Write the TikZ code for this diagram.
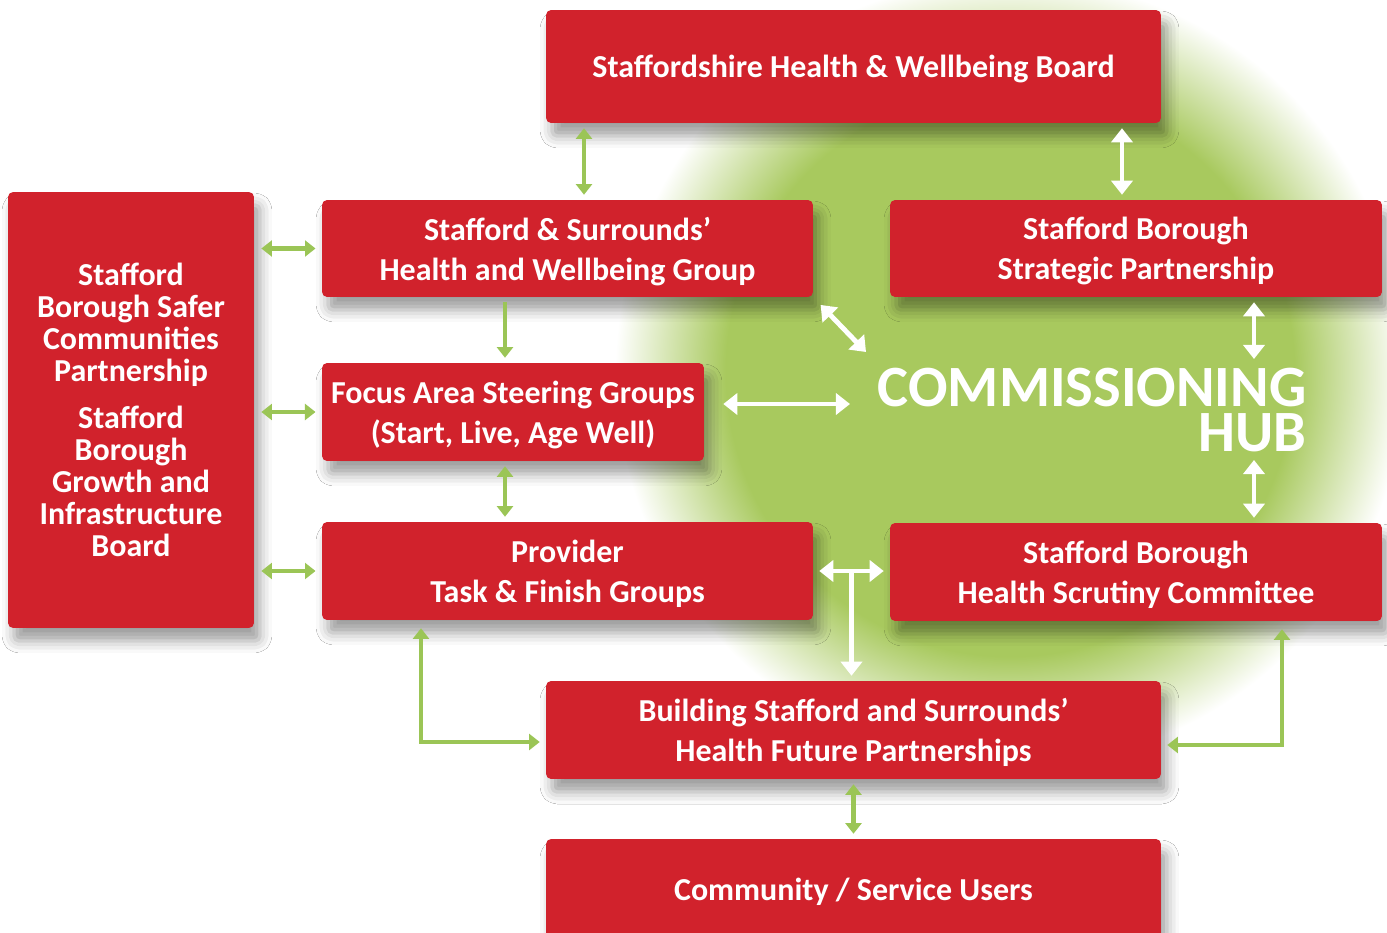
\documentclass[tikz,border=0pt]{standalone}
\usepackage{fontspec}
\setmainfont{Carlito}
\usepackage{tikz}
\usetikzlibrary{arrows.meta}
\usetikzlibrary{shadows.blur}

\definecolor{boxred}{RGB}{209,34,44}
\definecolor{linkgreen}{RGB}{155,197,86}
\definecolor{hubgreen}{RGB}{168,201,94}

% soft green disc behind the hub
\pgfdeclareradialshading{hubglow}{\pgfpointorigin}{color(0bp)=(hubgreen); color(18bp)=(hubgreen); color(25bp)=(white); color(50bp)=(white)}

\tikzset{
  box/.style={fill=boxred, rounded corners=0.1cm, text=white, align=center,
    inner sep=0pt, font=\bfseries\fontsize{18.2}{22.7}\selectfont,
    text depth=-0.8pt,
    blur shadow={shadow xshift=0.12cm, shadow yshift=-0.26cm, shadow blur radius=0.24cm, shadow opacity=38}},
  garrow/.style={draw=linkgreen, line width=2.5pt,
    {Triangle[length=6pt,width=9pt]}-{Triangle[length=6pt,width=9pt]},
    shorten <=2.8pt, shorten >=2.8pt},
  warrow/.style={draw=white, line width=2.8pt,
    {Triangle[length=8pt,width=12pt]}-{Triangle[length=8pt,width=12pt]},
    shorten <=2.8pt, shorten >=2.8pt},
}

\begin{document}
\begin{tikzpicture}[x=0.02cm, y=-0.02cm]
  \useasboundingbox (0,0) rectangle (1387,933);
  \fill[white] (0,0) rectangle (1387,933);
  \shade[shading=hubglow] (1010,372) circle[radius=7.9cm];

  % boards and groups
  \node[box, minimum width=12.3cm, minimum height=2.26cm] (hwb) at (853.5,66.5)
    {Staffordshire Health \& Wellbeing Board};
  \node[box, minimum width=9.82cm, minimum height=1.94cm] (ssh) at (567.5,248.5)
    {Stafford \& Surrounds’\\Health and Wellbeing Group};
  \node[box, minimum width=9.84cm, minimum height=1.94cm] (sbsp) at (1136,248.5)
    {Stafford Borough\\Strategic Partnership};
  \node[box, minimum width=4.92cm, minimum height=8.72cm,
    font=\bfseries\fontsize{18.2}{18.2}\selectfont, text depth={}] (safer) at (131,410)
    {Stafford\\Borough Safer\\Communities\\Partnership\\[8.5pt]Stafford\\Borough\\Growth and\\Infrastructure\\Board};
  \node[box, minimum width=7.64cm, minimum height=1.96cm] (focus) at (513,412)
    {Focus Area Steering Groups\\(Start, Live, Age Well)};
  \node[box, minimum width=9.82cm, minimum height=1.96cm] (provider) at (567.5,571)
    {Provider\\Task \& Finish Groups};
  \node[box, minimum width=9.84cm, minimum height=1.96cm] (scrutiny) at (1136,572)
    {Stafford Borough\\Health Scrutiny Committee};
  \node[box, minimum width=12.3cm, minimum height=1.96cm] (building) at (853.5,730)
    {Building Stafford and Surrounds’\\Health Future Partnerships};
  \node[box, minimum width=12.3cm, minimum height=2cm] (community) at (853.5,889)
    {Community / Service Users};

  % hub title
  \node[text=white, align=right, inner sep=0pt,
    font=\bfseries\fontsize{33.3}{25.5}\selectfont] (hub) at (1092,410)
    {COMMISSIONING\\HUB};
  \coordinate (hubnw) at (866,352);
  \coordinate (hubw) at (850,404);
  \coordinate (hubn) at (1254,359);
  \coordinate (hubs) at (1254,460);

  % links
  \draw[garrow] (hwb.south -| 584,0) -- (ssh.north -| 584,0);
  \draw[warrow] (hwb.south -| 1122,0) -- (sbsp.north -| 1122,0);
  \draw[garrow, shorten <=4pt, shorten >=3.5pt] (safer.east |- ssh.west) -- (ssh.west);
  \draw[garrow, shorten <=4pt, shorten >=3.5pt] (safer.east |- focus.west) -- (focus.west);
  \draw[garrow, shorten <=4pt, shorten >=3.5pt] (safer.east |- provider.west) -- (provider.west);
  \draw[garrow, -{Triangle[length=6pt,width=9pt]}] (ssh.south -| 505,0) -- (focus.north -| 505,0);
  \draw[garrow] (focus.south -| 505,0) -- (provider.north -| 505,0);

  \draw[warrow, shorten <=6pt, shorten >=0pt] (ssh.south east) -- (hubnw);
  \draw[warrow, shorten <=10.8pt, shorten >=0pt] (focus.east |- hubw) -- (hubw);
  \draw[warrow, shorten >=0pt] (sbsp.south -| hubn) -- (hubn);
  \draw[warrow, shorten <=0pt] (hubs) -- (scrutiny.north -| hubs);

  \draw[warrow, shorten <=3.4pt, shorten >=3.4pt] (provider.east) -- (provider.east -| scrutiny.west);
  \path (provider.east) -- (provider.east -| scrutiny.west) coordinate[pos=0.5] (tee);
  \draw[warrow, -{Triangle[length=8pt,width=12pt]}, shorten <=0pt] (tee) -- (building.north -| tee);

  \draw[garrow, shorten <=4.5pt, shorten >=3.4pt] (provider.south -| 421,0) |- (building.west |- 0,742);
  \draw[garrow, shorten <=4.5pt, shorten >=3.4pt] (scrutiny.south -| 1282,0) |- (building.east |- 0,745);
  \draw[garrow] (building.south) -- (community.north);
\end{tikzpicture}
\end{document}
